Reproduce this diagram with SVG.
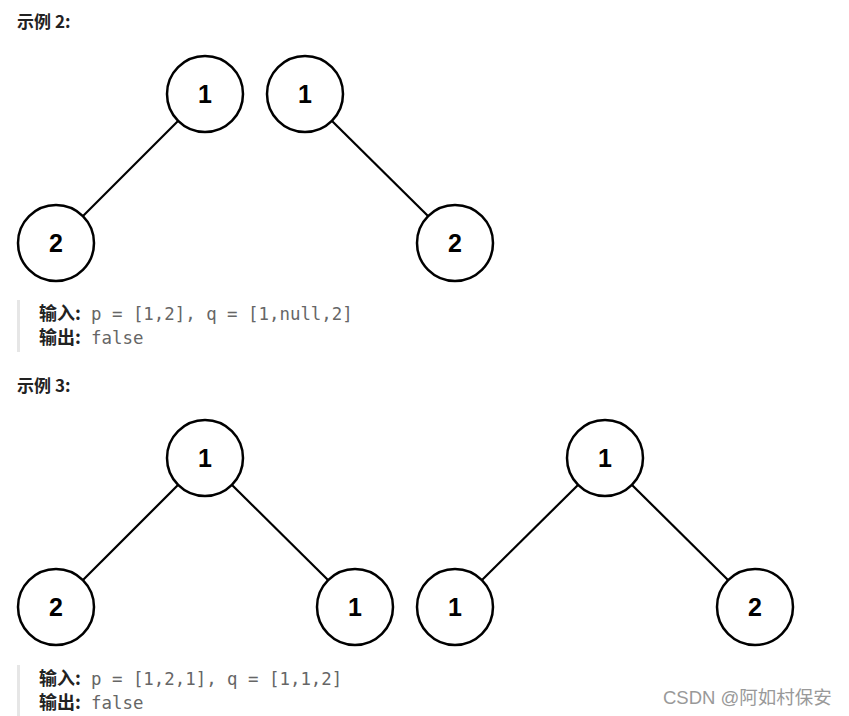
<svg xmlns="http://www.w3.org/2000/svg" width="849" height="716" viewBox="0 0 849 716">
<style>
.node circle{fill:#fff;stroke:#000;stroke-width:2.5}
.node text{font-family:"Liberation Sans",Arial,sans-serif;font-weight:bold;font-size:25px;text-anchor:middle;fill:#000}
#edges line{stroke:#000;stroke-width:2.2}
.h{font-family:"Noto Sans CJK SC","Liberation Sans",sans-serif;font-weight:bold;font-size:17px;fill:#222}
.lbl{font-family:"Noto Sans CJK SC","Liberation Sans",sans-serif;font-weight:bold;font-size:18px;fill:#222}
.code{font-family:"DejaVu Sans Mono","Liberation Mono",monospace;font-size:17.4px;fill:#666}
.bar{fill:#e6e6e6}
.wm{font-family:"Liberation Sans","Noto Sans CJK SC",sans-serif;font-size:18.5px;fill:#999}
</style>
<rect width="849" height="716" fill="#fff"/>
<text class="h" x="17" y="28">示例<tspan x="55">2:</tspan></text>
<text class="h" x="17" y="392">示例<tspan x="55">3:</tspan></text>
<g id="edges">
<line x1="178" y1="121" x2="83" y2="216"/>
<line x1="332" y1="121" x2="428" y2="216"/>
<line x1="178" y1="485" x2="83" y2="580"/>
<line x1="232" y1="485" x2="328" y2="580"/>
<line x1="578" y1="485" x2="482" y2="580"/>
<line x1="632" y1="485" x2="728" y2="580"/>
</g>
<g id="n1" class="node"><circle cx="205" cy="94" r="38"/><text x="205" y="103">1</text></g>
<g id="n2" class="node"><circle cx="56" cy="243" r="38"/><text x="56" y="252">2</text></g>
<g id="n3" class="node"><circle cx="305" cy="94" r="38"/><text x="305" y="103">1</text></g>
<g id="n4" class="node"><circle cx="455" cy="243" r="38"/><text x="455" y="252">2</text></g>
<g id="n5" class="node"><circle cx="205" cy="458" r="38"/><text x="205" y="467">1</text></g>
<g id="n6" class="node"><circle cx="56" cy="607" r="38"/><text x="56" y="616">2</text></g>
<g id="n7" class="node"><circle cx="355" cy="607" r="38"/><text x="355" y="616">1</text></g>
<g id="n8" class="node"><circle cx="605" cy="458" r="38"/><text x="605" y="467">1</text></g>
<g id="n9" class="node"><circle cx="455" cy="607" r="38"/><text x="455" y="616">1</text></g>
<g id="n10" class="node"><circle cx="755" cy="607" r="38"/><text x="755" y="616">2</text></g>
<rect class="bar" x="17" y="300" width="3" height="52"/>
<text class="lbl" x="39" y="320">输入:</text>
<text class="code" x="91" y="320">p = [1,2], q = [1,null,2]</text>
<text class="lbl" x="39" y="344">输出:</text>
<text class="code" x="91" y="344">false</text>
<rect class="bar" x="17" y="665" width="3" height="51"/>
<text class="lbl" x="39" y="685">输入:</text>
<text class="code" x="91" y="685">p = [1,2,1], q = [1,1,2]</text>
<text class="lbl" x="39" y="709">输出:</text>
<text class="code" x="91" y="709">false</text>
<text class="wm" x="663" y="704">CSDN @阿如村保安</text>
</svg>
